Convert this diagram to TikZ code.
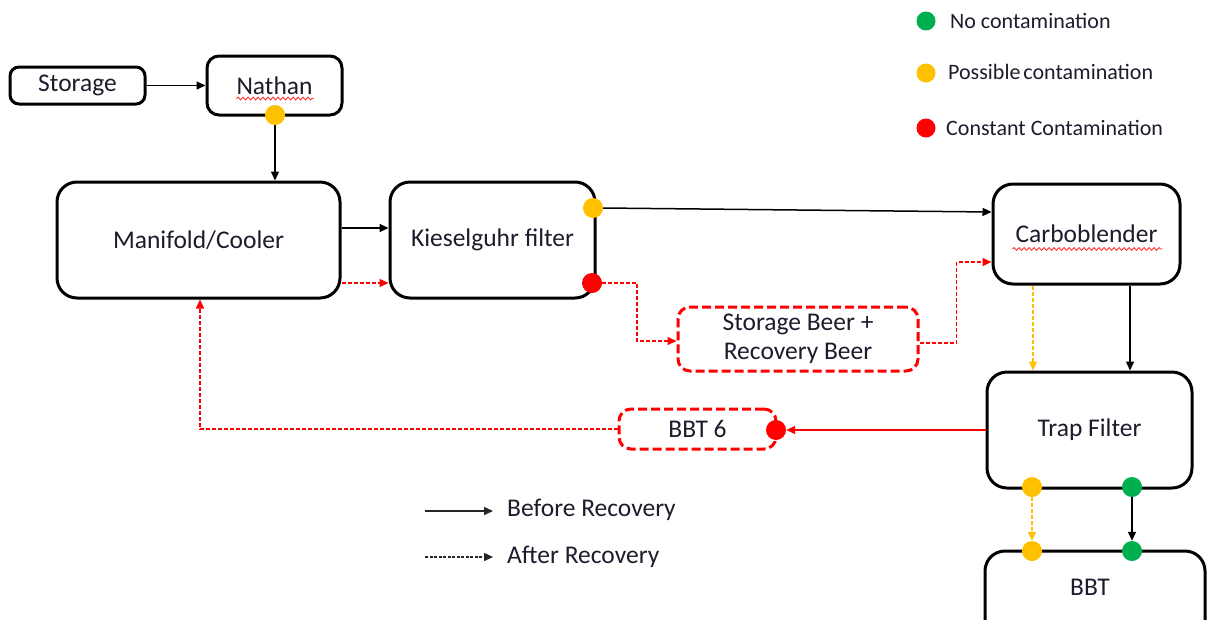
\documentclass[tikz,border=0pt]{standalone}
\usepackage{fontspec}
\setmainfont{Carlito}
\usetikzlibrary{arrows.meta,calc,decorations.pathmorphing}

\definecolor{okgreen}{HTML}{00B050}
\definecolor{warnyellow}{HTML}{FFC000}
\definecolor{alarmred}{HTML}{FF0000}
\definecolor{inktext}{HTML}{1C1C2C}

\tikzset{
  unit/.style={draw=black, line width=3pt, rounded corners=20pt, fill=white,
    text=inktext, font=\fontsize{25.5}{29}\selectfont, inner sep=0pt},
  smallunit/.style={unit, rounded corners=9pt},
  tempunit/.style={unit, draw=alarmred, dash pattern=on 9pt off 4pt,
    rounded corners=12pt, align=center},
  flow/.style={draw=black, line width=1.5pt, -{Triangle[length=9pt,width=8pt]}},
  recovery/.style={draw=alarmred, line width=1.5pt, dash pattern=on 4pt off 2pt,
    -{Triangle[length=9pt,width=8pt]}},
  maybeflow/.style={draw=warnyellow, line width=1.5pt, dash pattern=on 4pt off 2pt,
    -{Triangle[length=9pt,width=8pt]}},
  hotflow/.style={draw=alarmred, line width=1.5pt, -{Triangle[length=9pt,width=8pt]}},
  dot/.style={circle, minimum size=20pt, inner sep=0pt},
  okdot/.style={dot, fill=okgreen},
  maybedot/.style={dot, fill=warnyellow},
  baddot/.style={dot, fill=alarmred},
  legendtext/.style={anchor=west, text=inktext, font=\fontsize{22}{26}\selectfont, inner sep=0pt},
  keytext/.style={anchor=west, text=inktext, font=\fontsize{25.5}{29}\selectfont, inner sep=0pt},
  squiggle/.style={draw=alarmred!80, line width=0.9pt,
    decorate, decoration={snake, amplitude=1.4pt, segment length=5pt}},
}

\begin{document}
\begin{tikzpicture}[x=1pt, y=-1pt]
\useasboundingbox (0,0) rectangle (1210,619);

% process units
\node[smallunit, minimum width=135pt, minimum height=37pt] (storage) at (77.5,85.5) {\raisebox{-2pt}{Storage}};
\node[smallunit, rounded corners=12pt, minimum width=135pt, minimum height=59pt] (nathan) at (274.5,85.5) {Nathan};
\node[unit, minimum width=283pt, minimum height=116pt] (manifold) at (198.5,240) {Manifold/Cooler};
\node[unit, minimum width=205pt, minimum height=116pt] (kiesel) at (492.5,240) {Kieselguhr filter};
\node[unit, minimum width=187pt, minimum height=100pt] (carbo) at (1086.5,234) {Carboblender};
\node[tempunit, minimum width=240pt, minimum height=64pt] (sbeer) at (798,339) {Storage Beer +\\Recovery Beer};
\node[unit, minimum width=205pt, minimum height=116pt] (trap) at (1089.5,430) {Trap Filter};
\node[tempunit, minimum width=157pt, minimum height=40pt] (bbt6) at (697.5,429) {BBT 6};
\node[unit, minimum width=220pt, minimum height=100pt, text depth=0pt] (bbt) at (1095,601) {};
\node[text=inktext, font=\fontsize{25.5}{29}\selectfont] (bbtlabel) at (1090,587) {BBT};

% spell-check squiggles under the two names
\draw[squiggle] ([xshift=-38pt,yshift=-13pt]nathan.center) -- ([xshift=39pt,yshift=-13pt]nathan.center);
\draw[squiggle] ([xshift=-74pt,yshift=-15pt]carbo.center) -- ([xshift=76pt,yshift=-15pt]carbo.center);

% contamination markers
\node[maybedot] (ndot) at (275,115) {};
\node[maybedot] (kdot1) at (593,208) {};
\node[baddot] (kdot2) at (592,283) {};
\node[baddot] (bdot) at (776,430) {};
\node[maybedot] (tdot1) at (1032,487) {};
\node[okdot] (tdot2) at (1132,487) {};
\node[maybedot] (bbdot1) at (1032,551) {};
\node[okdot] (bbdot2) at (1132,551) {};

% flows before recovery
\draw[flow] (storage.east) -- (nathan.west);
\draw[flow] (ndot.south) -- (ndot.south |- manifold.north);
\draw[flow] ([yshift=12pt]manifold.east) -- ([yshift=12pt]manifold.east -| kiesel.west);
\draw[flow] (kdot1.east) -- ([yshift=22pt]carbo.west);
\draw[flow] ([xshift=43.5pt]carbo.south) -- ([xshift=43.5pt]carbo.south |- trap.north);
\draw[flow] (tdot2.south) -- (bbdot2.north);

% flows after recovery
\draw[recovery] ([yshift=-43pt]manifold.east) -- ([yshift=-43pt]manifold.east -| kiesel.west);
\draw[recovery] (kdot2.east) -- ++(35,0) |- ([yshift=-2pt]sbeer.west);
\draw[recovery] ([yshift=-4pt]sbeer.east) -- ++(37,0) |- ([yshift=-28pt]carbo.west);
\draw[maybeflow] ([xshift=-53.5pt]carbo.south) -- ([xshift=-53.5pt]carbo.south |- trap.north);
\draw[hotflow] (trap.west) -- (bdot.east);
\draw[recovery] (bbt6.west) -| ([xshift=1.5pt]manifold.south);
\draw[maybeflow] (tdot1.south) -- (bbdot1.north);

% legend: contamination levels
\node[okdot, minimum size=19pt] (lg1) at (926,21) {};
\node[maybedot, minimum size=19pt] (lg2) at (926,73) {};
\node[baddot, minimum size=19pt] (lg3) at (926,128) {};
\node[legendtext] (lt1) at (950,21) {No contamination};
\node[legendtext] (lt2) at (948,72) {Possible\kern-2pt\ contamination};
\node[legendtext] (lt3) at (946,128) {Constant Contamination};

% legend: line styles
\coordinate (ka1) at (425,511);
\coordinate (ka2) at (493,511);
\coordinate (kb1) at (425,557);
\coordinate (kb2) at (493,557);
\draw[flow, draw=black!85] (ka1) -- (ka2);
\draw[draw=black!85, line width=1.5pt, dash pattern=on 3pt off 1.5pt, -{Triangle[length=9pt,width=8pt]}] (kb1) -- (kb2);
\node[keytext] (kt1) at (507,510) {Before Recovery};
\node[keytext] (kt2) at (507,557) {After Recovery};
\end{tikzpicture}
\end{document}
